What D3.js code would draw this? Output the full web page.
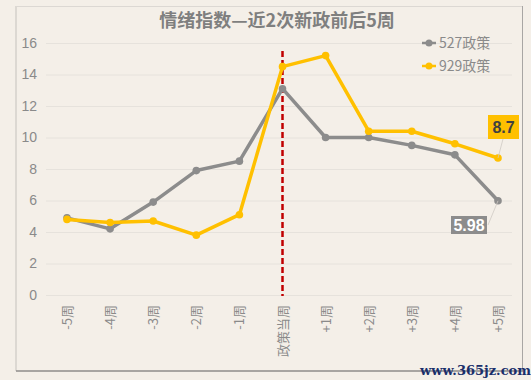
<!DOCTYPE html>
<html><head><meta charset="utf-8">
<script src="https://cdn.jsdelivr.net/npm/d3@7"></script>
<style>html,body{margin:0;padding:0;background:#f4efe8;}svg{display:block;}</style>
</head><body><div id="chart"></div>
<script>
const categories = ["-5周","-4周","-3周","-2周","-1周","政策当周","+1周","+2周","+3周","+4周","+5周"];
const seriesNames = ["527政策","929政策"];
const s527 = [4.9, 4.2, 5.9, 7.9, 8.5, 13.1, 10.0, 10.0, 9.5, 8.9, 5.98];
const s929 = [4.8, 4.6, 4.7, 3.8, 5.1, 14.5, 15.2, 10.4, 10.4, 9.6, 8.7];
const yTicks = [0, 2, 4, 6, 8, 10, 12, 14, 16];
const title = "情绪指数—近2次新政前后5周";
const colors = ["#8c8c8c", "#ffc000"];

const W = 531, H = 380;
const svg = d3.select("#chart").append("svg").attr("width", W).attr("height", H);
const font = "'Noto Sans CJK SC','Noto Sans',sans-serif";

// frame
svg.append("rect").attr("x", 0).attr("y", 0).attr("width", W).attr("height", H).attr("fill", "#f4efe8");
svg.append("line").attr("x1", 16).attr("x2", 16).attr("y1", 6).attr("y2", 371).attr("stroke", "#d4d0cb").attr("stroke-width", 1.5);
svg.append("line").attr("x1", 16).attr("x2", 522).attr("y1", 6.5).attr("y2", 6.5).attr("stroke", "#dcd8d3").attr("stroke-width", 1);
svg.append("line").attr("x1", 522.5).attr("x2", 522.5).attr("y1", 6).attr("y2", 371).attr("stroke", "#a8a6a4").attr("stroke-width", 1);
svg.append("line").attr("x1", 16).attr("x2", 523).attr("y1", 371).attr("y2", 371).attr("stroke", "#8f8d8b").attr("stroke-width", 1.5);

const x = d3.scalePoint().domain(categories).range([67, 498]);
const y = d3.scaleLinear().domain([0, 16]).range([295, 43]);

// title
svg.append("text").attr("x", 277).attr("y", 27).attr("text-anchor", "middle")
  .attr("font-family", font).attr("font-weight", "bold").attr("font-size", 18)
  .attr("fill", "#7f7f7f").text(title);

// grid
svg.append("g").selectAll("line").data(yTicks).join("line")
  .attr("x1", 46).attr("x2", 512)
  .attr("y1", d => y(d) + 0.5).attr("y2", d => y(d) + 0.5)
  .attr("stroke", "#e6e2dc").attr("stroke-width", 1);

// y axis
const yAxis = d3.axisLeft(y).tickValues(yTicks).tickSize(0).tickPadding(0);
const gy = svg.append("g").attr("transform", "translate(37,0)").call(yAxis);
gy.select(".domain").remove();
gy.selectAll("text").attr("font-family", "'Liberation Sans','Noto Sans',sans-serif").attr("font-size", 14).attr("fill", "#8a8a8a");

// x axis (rotated labels)
const xAxis = d3.axisBottom(x).tickSize(0).tickPadding(0);
const gx = svg.append("g").attr("transform", "translate(0,305)").call(xAxis);
gx.select(".domain").remove();
gx.selectAll("text")
  .attr("font-family", font).attr("font-size", 13).attr("fill", "#8a8a8a")
  .attr("transform", "rotate(-90)")
  .attr("text-anchor", "end")
  .attr("dy", "0.35em").attr("x", 0).attr("y", 0);

// policy line
svg.append("line").attr("x1", x("政策当周")).attr("x2", x("政策当周"))
  .attr("y1", 51).attr("y2", 296)
  .attr("stroke", "#c00000").attr("stroke-width", 2.5).attr("stroke-dasharray", "6,3");

const line = d3.line().x((d, i) => x(categories[i])).y(d => y(d));
[s527, s929].forEach((s, k) => {
  svg.append("path").datum(s).attr("d", line).attr("fill", "none")
    .attr("stroke", colors[k]).attr("stroke-width", 3.5).attr("stroke-linejoin", "round");
  svg.append("g").selectAll("circle").data(s).join("circle")
    .attr("cx", (d, i) => x(categories[i])).attr("cy", d => y(d)).attr("r", 3.8)
    .attr("fill", colors[k]);
});

// legend
seriesNames.forEach((n, k) => {
  const ly = 43 + k * 23;
  svg.append("line").attr("x1", 422).attr("x2", 436).attr("y1", ly).attr("y2", ly).attr("stroke", colors[k]).attr("stroke-width", 2.5);
  svg.append("circle").attr("cx", 429).attr("cy", ly).attr("r", 3.5).attr("fill", colors[k]);
  svg.append("text").attr("x", 439).attr("y", ly).attr("dy", "0.35em")
    .attr("font-family", font).attr("font-size", 14).attr("fill", "#8a8a8a").text(n);
});

// data labels
const last = categories.length - 1;
const lx = x(categories[last]);
// 929 label
svg.append("line").attr("x1", lx).attr("y1", y(s929[last])).attr("x2", 503).attr("y2", 139)
  .attr("stroke", "#cfcac4").attr("stroke-width", 0.8);
svg.append("rect").attr("x", 488).attr("y", 115).attr("width", 31).attr("height", 24).attr("fill", "#ffc000");
svg.append("text").attr("x", 503.5).attr("y", 127).attr("dy", "0.36em").attr("text-anchor", "middle")
  .attr("font-family", "'Liberation Sans',sans-serif").attr("font-weight", "bold").attr("font-size", 16)
  .attr("fill", "#404040").text(String(s929[last]));
// 527 label
svg.append("line").attr("x1", lx).attr("y1", y(s527[last])).attr("x2", 488).attr("y2", 225)
  .attr("stroke", "#cfcac4").attr("stroke-width", 0.8);
svg.append("rect").attr("x", 451).attr("y", 216).attr("width", 36).attr("height", 18).attr("fill", "#8c8c8c");
svg.append("text").attr("x", 469).attr("y", 225).attr("dy", "0.36em").attr("text-anchor", "middle")
  .attr("font-family", "'Liberation Sans',sans-serif").attr("font-weight", "bold").attr("font-size", 16)
  .attr("fill", "#ffffff").text(String(s527[last]));

// watermark
svg.append("text").attr("x", 531).attr("y", 375).attr("text-anchor", "end")
  .attr("font-family", "'DejaVu Serif','Liberation Serif',serif").attr("font-weight", "bold").attr("font-size", 13)
  .attr("fill", "#1a2f6b").text("www.365jz.com");
</script></body></html>
